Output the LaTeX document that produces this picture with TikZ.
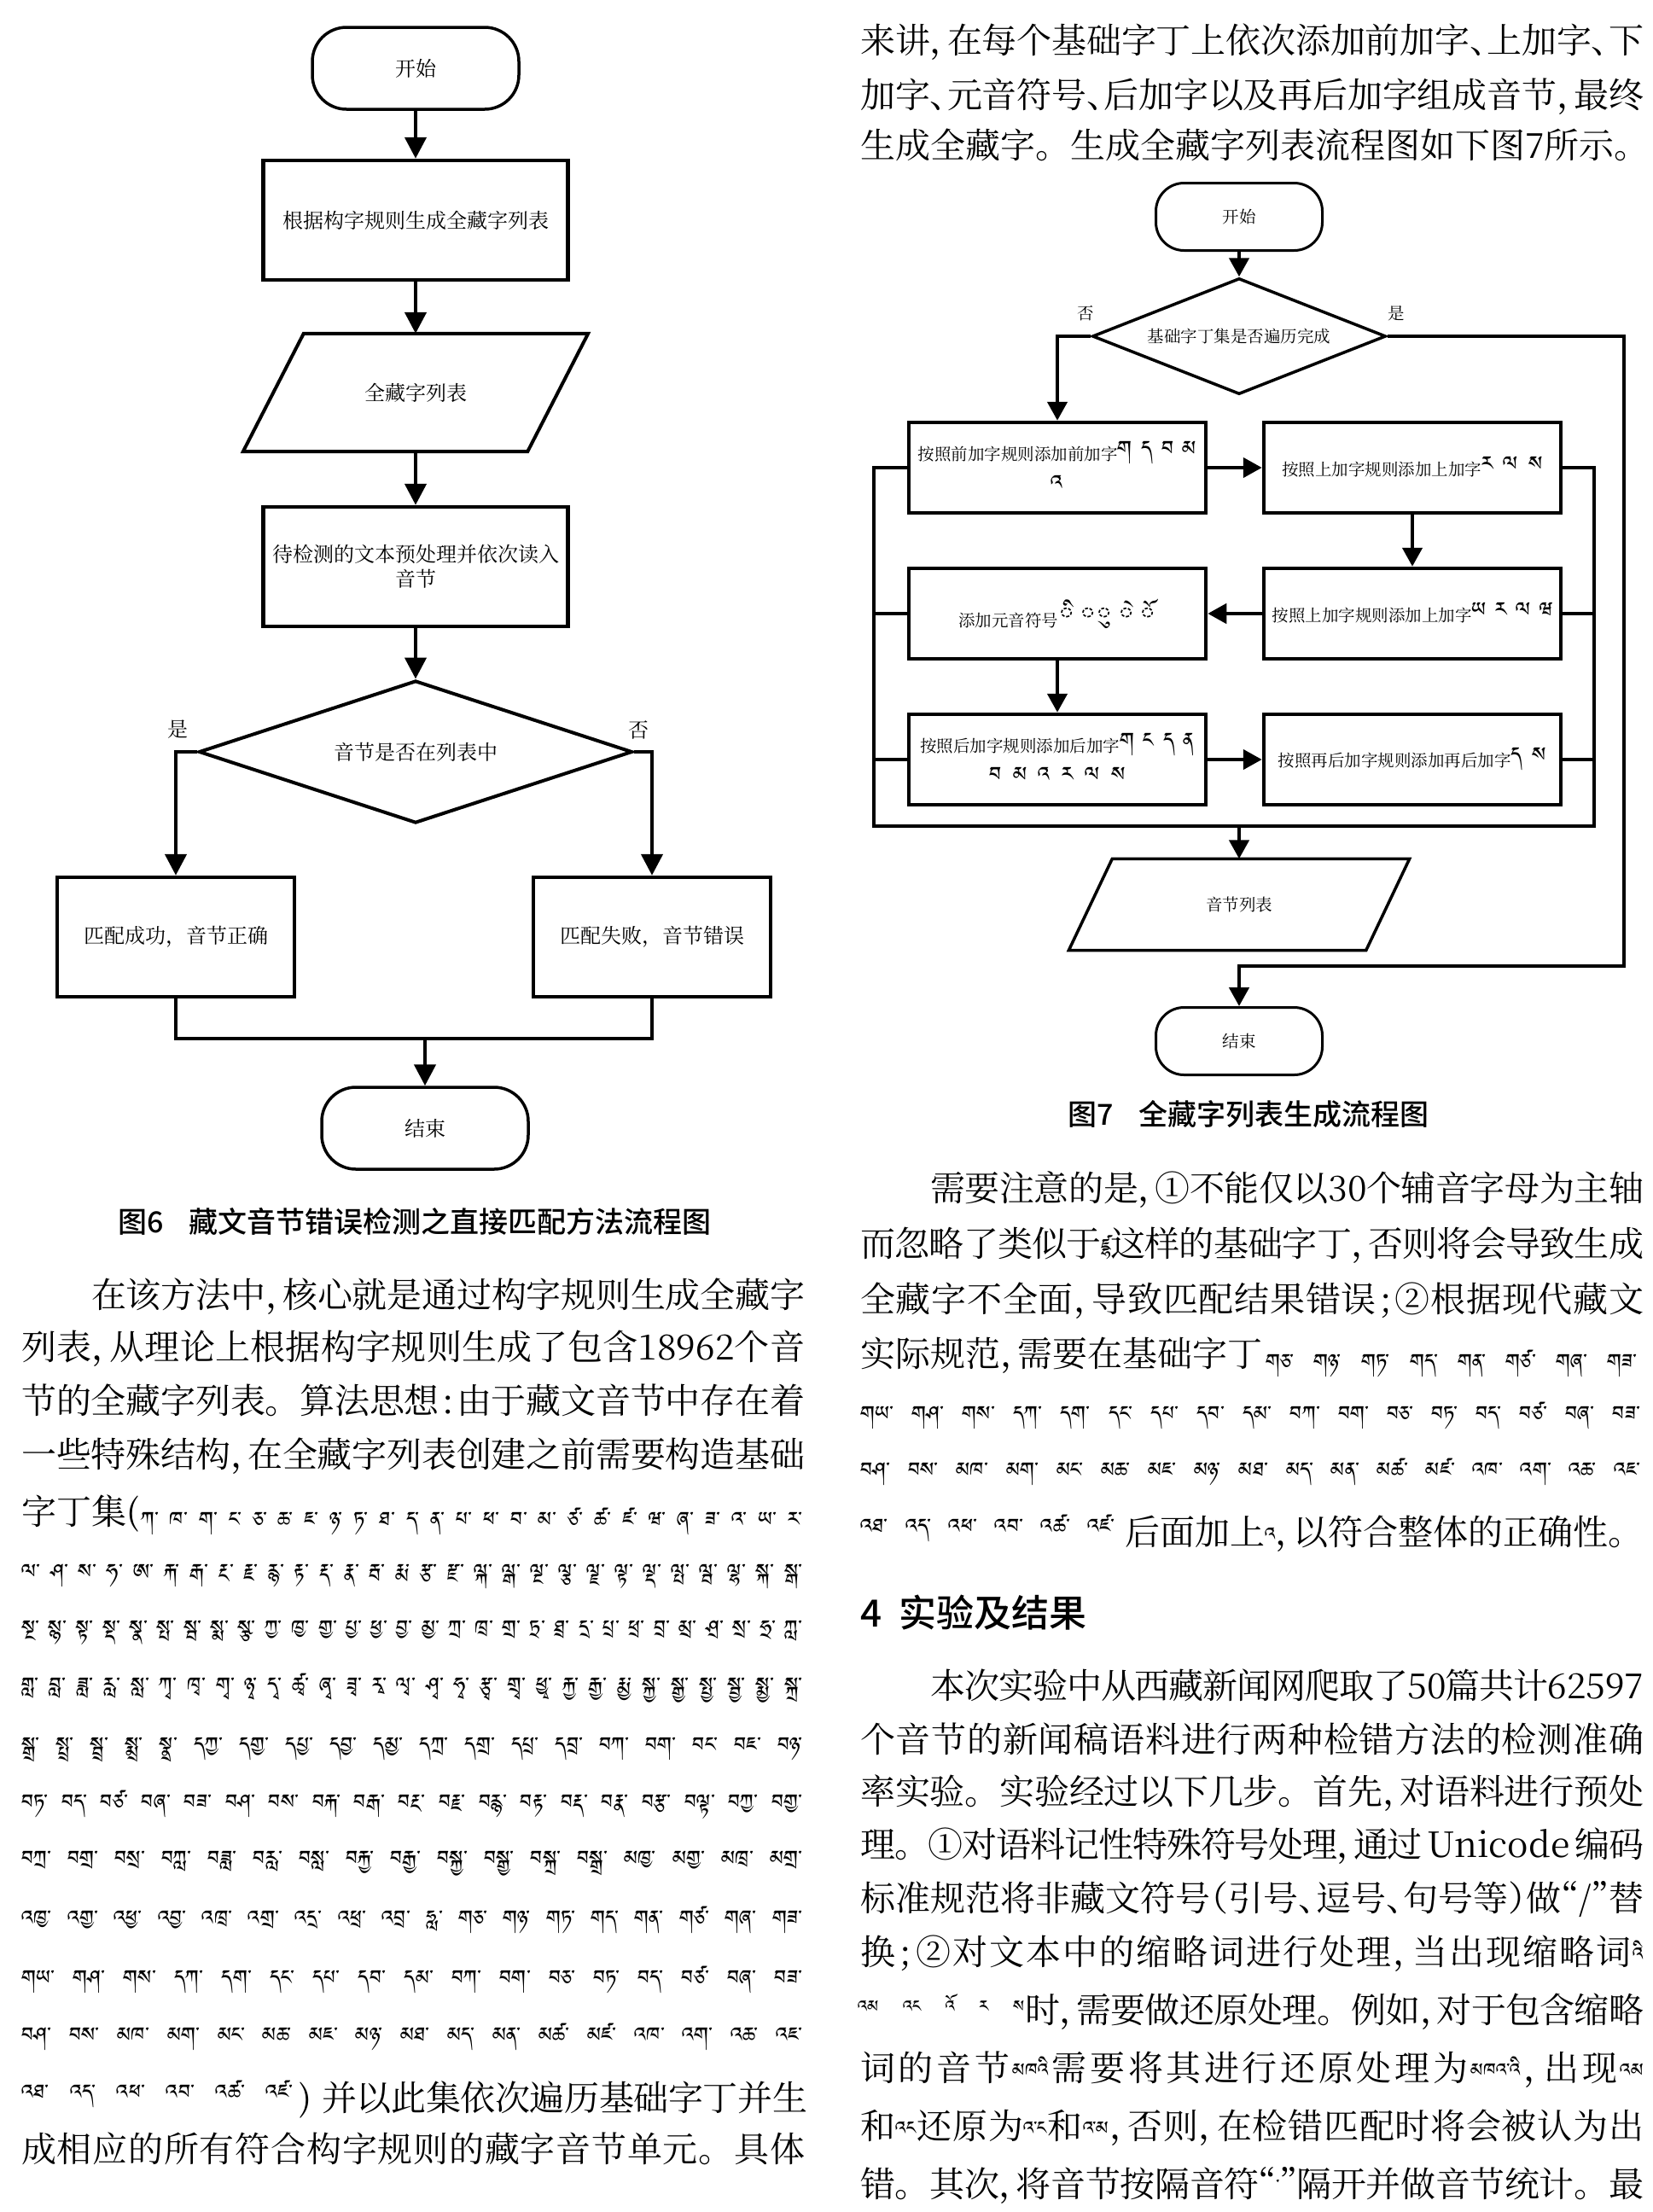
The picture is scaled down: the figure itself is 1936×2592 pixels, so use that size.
\documentclass[tikz,border=0pt]{standalone}
\usepackage{fontspec}
\usetikzlibrary{arrows.meta,shapes.geometric,calc}
\def\tibname{DejaVu Sans}
\IfFontExistsTF{Jomolhari}{\def\tibname{Jomolhari}}{%
\IfFontExistsTF{Tibetan Machine Uni}{\def\tibname{Tibetan Machine Uni}}{%
\IfFontExistsTF{Noto Serif Tibetan}{\def\tibname{Noto Serif Tibetan}}{%
\IfFontExistsTF{Noto Sans Tibetan}{\def\tibname{Noto Sans Tibetan}}{}}}}
\newfontfamily\tibf[Script=Tibetan]{\tibname}
\IfFontExistsTF{Noto Serif CJK SC}{\newfontfamily\song{Noto Serif CJK SC}}{\newfontfamily\song{Noto Sans CJK SC}}
\IfFontExistsTF{Noto Sans CJK SC Medium}{\newfontfamily\hei{Noto Sans CJK SC Medium}}{\newfontfamily\hei{Noto Sans CJK SC}}
\newcommand\Bfnt{\song\fontsize{41}{41}\selectfont}
\newcommand\Hc[1]{\makebox[0.5em][l]{#1}}
\newcommand\Ho[1]{\makebox[0.5em][r]{#1}}
\newcommand\Hm[1]{\makebox[0.5em][c]{#1}}
\newcommand\Tin[1]{{\tibf\fontsize{27}{27}\selectfont #1}}
\newcommand\Tch[1]{{\tibf\fontsize{30}{30}\selectfont #1}}
% inter-character spreading
\def\SpEnd{SpEndSentinel}
\def\SpG{\hskip 0pt plus 1fil minus 1.5pt\relax}
\def\SpA#1{\ifx\SpEnd#1\else\SpG#1\expandafter\SpA\fi}
\def\SpB#1{#1\SpA}
\newcommand\Spread[1]{\SpB#1\SpEnd}
\newcommand\Jline[5]{\node[anchor=base west,inner sep=0pt] (#1) at (#2,#3) {\Bfnt\makebox[#4pt][s]{\Spread{#5}}};}
\newcommand\Nline[4]{\node[anchor=base west,inner sep=0pt] (#1) at (#2,#3) {\Bfnt #4};}
\newcommand\Trow[5]{\node[anchor=base west,inner sep=0pt] (#1) at (#2,#3) {\tibf\fontsize{30}{30}\selectfont\makebox[#4pt][s]{\spaceskip=0pt plus 1fil\relax #5}};}
\begin{document}
\begin{tikzpicture}[x=1pt,y=-1pt,
 lfnt/.style={font=\song\fontsize{24}{29}\selectfont},
 rfnt/.style={font=\song\fontsize{19.5}{40}\selectfont},
 conL/.style={line width=4.5pt},
 arL/.style={conL,-{Triangle[length=25pt,width=25pt]}},
 conR/.style={line width=4.5pt},
 arR/.style={conR,-{Triangle[length=22pt,width=23pt]}},
 lterm/.style={draw,line width=3.5pt,rounded corners=40pt,minimum width=242pt,minimum height=96pt,inner sep=0pt,lfnt},
 lbox/.style={draw,line width=4.5pt,minimum width=357pt,minimum height=140pt,inner sep=0pt,align=center,lfnt},
 lsbox/.style={lbox,minimum width=278pt},
 ldec/.style={diamond,aspect=3,draw,line width=4pt,minimum width=508pt,minimum height=167pt,inner sep=0pt,lfnt},
 rterm/.style={draw,line width=3pt,rounded corners=33pt,minimum width=195pt,minimum height=79pt,inner sep=0pt,rfnt},
 rbox/.style={draw,line width=4.5pt,minimum width=348pt,minimum height=106pt,inner sep=0pt,align=center,rfnt},
 rdec/.style={diamond,aspect=2.5,draw,line width=3.5pt,minimum width=344pt,minimum height=136pt,inner sep=0pt,rfnt},
 lab/.style={inner sep=0pt}]
\fill[white] (0,0) rectangle (1936,2592);
\useasboundingbox (0,0) rectangle (1936,2592);
% ---------- left flowchart ----------
\node[lterm] (ls) at (487,80) {开始};
\node[lbox] (lb1) at (487,258) {根据构字规则生成全藏字列表};
\node[minimum width=404pt,minimum height=138pt,inner sep=0pt,lfnt] (lp) at (487,460) {全藏字列表};
\draw[line width=4pt] (lp.south west) -- ($(lp.south east)+(-71,0)$) -- (lp.north east) -- ($(lp.north west)+(71,0)$) -- cycle;
\node[lbox] (lb2) at (487,664) {待检测的文本预处理并依次读入\\音节};
\node[ldec] (ld) at (487,881) {音节是否在列表中};
\node[lsbox] (lbl) at (206,1098) {匹配成功，音节正确};
\node[lsbox] (lbr) at (764,1098) {匹配失败，音节错误};
\node[lterm] (le) at (498,1322) {结束};
\node[lab,lfnt] (lyes) at (208,855) {是};
\node[lab,lfnt] (lno) at (748,855) {否};
\coordinate (lj) at (498,1217);
\draw[arL] (ls.south) -- (lb1.north);
\draw[arL] (lb1.south) -- (lp.north);
\draw[arL] (lp.south) -- (lb2.north);
\draw[arL] (lb2.south) -- (ld.north);
\draw[arL] (ld.west) -| (lbl.north);
\draw[arL] (ld.east) -| (lbr.north);
\draw[conL] (lbl.south) |- (lj) -| (lbr.south);
\draw[arL] (lj) -- (le.north);
\node[lab,font=\hei\fontsize{34}{34}\selectfont] (lcap) at (486,1431) {图6\hspace{0.9em}藏文音节错误检测之直接匹配方法流程图};
% ---------- right flowchart ----------
\node[rterm] (rs) at (1452,254) {开始};
\node[rdec] (rd) at (1452,394) {基础字丁集是否遍历完成};
\node[rbox] (ra) at (1239,548) {按照前加字规则添加前加字\Tch{ག\hspace{.35em}ད\hspace{.35em}བ\hspace{.35em}མ}\\\Tch{འ}};
\node[rbox] (rb) at (1655,548) {按照上加字规则添加上加字\Tch{ར\hspace{.4em}ལ\hspace{.4em}ས}};
\node[rbox] (rc) at (1239,719) {添加元音符号\Tch{◌ི\hspace{.2em}◌ུ\hspace{.2em}◌ེ\hspace{.2em}◌ོ}};
\node[rbox] (rdd) at (1655,719) {按照上加字规则添加上加字\Tch{ཡ\hspace{.35em}ར\hspace{.35em}ལ\hspace{.35em}ཝ}};
\node[rbox] (re) at (1239,890) {按照后加字规则添加后加字\Tch{ག\hspace{.35em}ང\hspace{.35em}ད\hspace{.35em}ན}\\\Tch{བ\hspace{.45em}མ\hspace{.45em}འ\hspace{.45em}ར\hspace{.45em}ལ\hspace{.45em}ས}};
\node[rbox] (rf) at (1655,890) {按照再后加字规则添加再后加字\Tch{ད\hspace{.4em}ས}};
\node[minimum width=399pt,minimum height=107pt,inner sep=0pt,rfnt] (rp) at (1452,1060) {音节列表};
\draw[line width=3.5pt] (rp.south west) -- ($(rp.south east)+(-51,0)$) -- (rp.north east) -- ($(rp.north west)+(51,0)$) -- cycle;
\node[rterm] (ren) at (1452,1220) {结束};
\node[lab,rfnt] (rno) at (1272,367) {否};
\node[lab,rfnt] (ryes) at (1636,367) {是};
\coordinate (rcr) at (1903,1132);
\coordinate (fl) at (1024,968);
\coordinate (fr) at (1868,968);
\coordinate (fb) at (1452,968);
\draw[arR] (rs.south) -- (rd.north);
\draw[arR] (rd.west) -| (ra.north);
\draw[arR] (rd.east) -| (rcr) -| (ren.north);
\draw[arR] (ra.east) -- (rb.west);
\draw[arR] (rb.south) -- (rdd.north);
\draw[arR] (rdd.west) -- (rc.east);
\draw[arR] (rc.south) -- (re.north);
\draw[arR] (re.east) -- (rf.west);
\draw[conR] (ra.west) -| (fl) -- (fr) |- (rb.east);
\draw[conR] (rc.west) -- (rc.west -| fl);
\draw[conR] (re.west) -- (re.west -| fl);
\draw[conR] (rdd.east) -- (rdd.east -| fr);
\draw[conR] (rf.east) -- (rf.east -| fr);
\draw[arR] (fb) -- (rp.north);
\node[lab,font=\hei\fontsize{34}{34}\selectfont] (rcap) at (1463,1306) {图7\hspace{0.9em}全藏字列表生成流程图};
% ---------- right column text ----------
\Jline{t1}{1008}{62}{918}{来讲{\Hc{，}}在每个基础字丁上依次添加前加字{\Hc{、}}上加字{\Hc{、}}下}
\Jline{t2}{1008}{126}{918}{加字{\Hc{、}}元音符号{\Hc{、}}后加字以及再后加字组成音节{\Hc{，}}最终}
\Nline{t3}{1008}{185}{生成全藏字。生成全藏字列表流程图如下图7所示。}
\Jline{r4}{1090}{1407}{836}{需要注意的是{\Hc{，}}①不能仅以{30}个辅音字母为主轴}
\Jline{r5}{1008}{1472}{918}{而忽略了类似于{\Tin{ཛྷ}}这样的基础字丁{\Hc{，}}否则将会导致生成}
\Jline{r6}{1008}{1537}{918}{全藏字不全面{\Hc{，}}导致匹配结果错误{\Hm{;}}②根据现代藏文}
\Nline{r7}{1008}{1601}{实际规范\Hc{，}需要在基础字丁}
\Trow{r7t}{1483}{1609}{435}{གཅ་ གཉ་ གཏ་ གད་ གན་ གཙ་ གཞ་ གཟ་}
\Trow{r8}{1008}{1670}{914}{གཡ་ གཤ་ གས་ དཀ་ དག་ དང་ དཔ་ དབ་ དམ་ བཀ་ བག་ བཅ་ བཏ་ བད་ བཙ་ བཞ་ བཟ་}
\Trow{r9}{1008}{1736}{914}{བཤ་ བས་ མཁ་ མག་ མང་ མཆ་ མཇ་ མཉ་ མཐ་ མད་ མན་ མཚ་ མཛ་ འཁ་ འག་ འཆ་ འཇ་}
\Trow{r10t}{1008}{1802}{298}{འཐ་ འད་ འཕ་ འབ་ འཚ་ འཛ་}
\Nline{r10}{1318}{1810}{后面加上\Tin{འ}\Hc{，}以符合整体的正确性。}
\node[anchor=base west,inner sep=0pt,font=\hei\fontsize{44}{44}\selectfont] (hd) at (1008,1906) {4\hspace{0.45em}实验及结果};
\Jline{r11}{1090}{1990}{836}{本次实验中从西藏新闻网爬取了{50}篇共计{62597}}
\Jline{r12}{1008}{2053}{918}{个音节的新闻稿语料进行两种检错方法的检测准确}
\Jline{r13}{1008}{2114}{918}{率实验。实验经过以下几步。首先{\Hc{，}}对语料进行预处}
\Jline{r14}{1008}{2176}{918}{理。①对语料记性特殊符号处理{\Hc{，}}通过{\,Unicode\,}编码}
\Jline{r15}{1008}{2239}{918}{标准规范将非藏文符号{\Ho{（}}引号{\Hc{、}}逗号{\Hc{、}}句号等{\Hc{）}}做{\Ho{“}}/{\Hc{”}}替}
\Jline{r16}{1008}{2302}{918}{换{\Hm{;}}②对文本中的缩略词进行处理{\Hc{，}}当出现缩略词{\Tin{འི}}}
\node[anchor=base west,inner sep=0pt] (r17t) at (1005,2362) {\tibf\fontsize{24}{24}\selectfont\makebox[195pt][s]{\spaceskip=0pt plus 1fil\relax འམ འང འོ ར ས}};
\Jline{r17}{1201}{2370}{725}{时{\Hc{，}}需要做还原处理。例如{\Hc{，}}对于包含缩略}
\Jline{r18}{1008}{2438}{918}{词的音节{\Tin{མཁའི}}需要将其进行还原处理为{\Tin{མཁའ་འི}}{\Hc{，}}出现{\Tin{འམ}}}
\Jline{r19}{1008}{2506}{918}{和{\Tin{འང}}还原为{\Tin{འ་ང}}和{\Tin{འ་མ}}{\Hc{，}}否则{\Hc{，}}在检错匹配时将会被认为出}
\Jline{r20}{1008}{2574}{918}{错。其次{\Hc{，}}将音节按隔音符{\Ho{“}}{\Tin{་}}{\Hc{”}}隔开并做音节统计。最}
% ---------- left column text ----------
\Jline{l1}{107}{1532}{836}{在该方法中{\Hc{，}}核心就是通过构字规则生成全藏字}
\Jline{l2}{25}{1593}{918}{列表{\Hc{，}}从理论上根据构字规则生成了包含{18962}个音}
\Jline{l3}{25}{1656}{918}{节的全藏字列表。算法思想{\Hm{:}}由于藏文音节中存在着}
\Jline{l4}{25}{1719}{918}{一些特殊结构{\Hc{，}}在全藏字列表创建之前需要构造基础}
\Nline{l5}{25}{1786}{字丁集(}
\Trow{l5t}{165}{1794}{775}{ཀ་ ཁ་ ག་ ང་ ཅ་ ཆ་ ཇ་ ཉ་ ཏ་ ཐ་ ད་ ན་ པ་ ཕ་ བ་ མ་ ཙ་ ཚ་ ཛ་ ཝ་ ཞ་ ཟ་ འ་ ཡ་ ར་}
\Trow{l6}{25}{1855}{915}{ལ་ ཤ་ ས་ ཧ་ ཨ་ རྐ་ རྒ་ རྔ་ རྗ་ རྙ་ རྟ་ རྡ་ རྣ་ རྦ་ རྨ་ རྩ་ རྫ་ ལྐ་ ལྒ་ ལྔ་ ལྕ་ ལྗ་ ལྟ་ ལྡ་ ལྤ་ ལྦ་ ལྷ་ སྐ་ སྒ་}
\Trow{l7}{25}{1921}{915}{སྔ་ སྙ་ སྟ་ སྡ་ སྣ་ སྤ་ སྦ་ སྨ་ སྩ་ ཀྱ་ ཁྱ་ གྱ་ པྱ་ ཕྱ་ བྱ་ མྱ་ ཀྲ་ ཁྲ་ གྲ་ ཏྲ་ ཐྲ་ དྲ་ པྲ་ ཕྲ་ བྲ་ མྲ་ ཤྲ་ སྲ་ ཧྲ་ ཀླ་}
\Trow{l8}{25}{1988}{915}{གླ་ བླ་ ཟླ་ རླ་ སླ་ ཀྭ་ ཁྭ་ གྭ་ ཉྭ་ དྭ་ ཚྭ་ ཞྭ་ ཟྭ་ རྭ་ ལྭ་ ཤྭ་ ཧྭ་ རྩྭ་ གྲྭ་ ཕྱྭ་ རྐྱ་ རྒྱ་ རྨྱ་ སྐྱ་ སྒྱ་ སྤྱ་ སྦྱ་ སྨྱ་ སྐྲ་}
\Trow{l9}{25}{2058}{915}{སྒྲ་ སྤྲ་ སྦྲ་ སྨྲ་ སྣྲ་ དཀྱ་ དགྱ་ དཔྱ་ དབྱ་ དམྱ་ དཀྲ་ དགྲ་ དཔྲ་ དབྲ་ བཀ་ བག་ བང་ བཇ་ བཉ་}
\Trow{l10}{25}{2125}{915}{བཏ་ བད་ བཙ་ བཞ་ བཟ་ བཤ་ བས་ བརྐ་ བརྒ་ བརྔ་ བརྗ་ བརྙ་ བརྟ་ བརྡ་ བརྣ་ བརྩ་ བལྟ་ བཀྱ་ བགྱ་}
\Trow{l11}{25}{2191}{915}{བཀྲ་ བགྲ་ བསྲ་ བཀླ་ བཟླ་ བརླ་ བསླ་ བརྐྱ་ བརྒྱ་ བསྐྱ་ བསྒྱ་ བསྐྲ་ བསྒྲ་ མཁྱ་ མགྱ་ མཁྲ་ མགྲ་}
\Trow{l12}{25}{2261}{915}{འཁྱ་ འགྱ་ འཕྱ་ འབྱ་ འཁྲ་ འགྲ་ འདྲ་ འཕྲ་ འབྲ་ ཧླ་ གཅ་ གཉ་ གཏ་ གད་ གན་ གཙ་ གཞ་ གཟ་}
\Trow{l13}{25}{2331}{915}{གཡ་ གཤ་ གས་ དཀ་ དག་ དང་ དཔ་ དབ་ དམ་ བཀ་ བག་ བཅ་ བཏ་ བད་ བཙ་ བཞ་ བཟ་}
\Trow{l14}{25}{2398}{915}{བཤ་ བས་ མཁ་ མག་ མང་ མཆ་ མཇ་ མཉ་ མཐ་ མད་ མན་ མཚ་ མཛ་ འཁ་ འག་ འཆ་ འཇ་}
\Trow{l15t}{25}{2465}{318}{འཐ་ འད་ འཕ་ འབ་ འཚ་ འཛ་}
\Nline{l15p}{350}{2473}{)}
\Jline{l15}{377}{2473}{569}{并以此集依次遍历基础字丁并生}
\Jline{l16}{25}{2533}{918}{成相应的所有符合构字规则的藏字音节单元。具体}
\end{tikzpicture}
\end{document}
